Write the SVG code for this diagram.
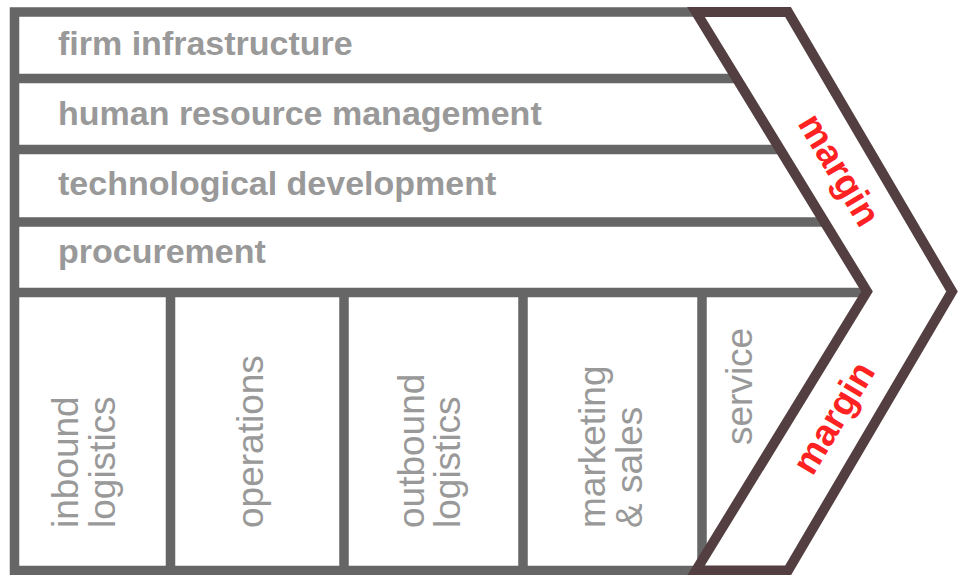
<svg xmlns="http://www.w3.org/2000/svg" width="959" height="575" viewBox="0 0 959 575">
  <style>
    .frame { fill: none; stroke: #666666; stroke-width: 9.5; stroke-linecap: butt; stroke-linejoin: miter; }
    .chev { fill: #ffffff; stroke: #533f41; stroke-width: 10; stroke-linejoin: miter; stroke-miterlimit: 10; }
    .row { font-family: "Liberation Sans", Arial, sans-serif; font-weight: bold; font-size: 34px; fill: #999999; }
    .col { font-family: "Liberation Sans", Arial, sans-serif; font-size: 37px; fill: #999999; }
    .margin { font-family: "Liberation Sans", Arial, sans-serif; font-weight: bold; font-size: 37px; fill: #ff2222; text-anchor: middle; }
  </style>
  <rect width="959" height="575" fill="#ffffff"/>
  <g id="connectors">
    <path class="frame" d="M696,12 H14.5 V570.5 H700"/>
    <path class="frame" d="M10,78.5 H737 M10,149.5 H780 M10,222 H824.5 M10,292.5 H867"/>
    <path class="frame" d="M170.5,292.5 V575 M344,292.5 V575 M523,292.5 V575 M702,292.5 V570"/>
  </g>
  <g id="margin-chevron">
    <polygon class="chev" points="696,12 788,12 952,291.5 788,570.5 696,570.5 867,291.5"/>
    <text class="margin" transform="translate(839,170) rotate(59)" x="0" y="12">margin</text>
    <text class="margin" transform="translate(834,418) rotate(-59)" x="0" y="12">margin</text>
  </g>
  <g id="firm-infrastructure">
    <text class="row" x="58" y="55">firm infrastructure</text>
  </g>
  <g id="human-resource-management">
    <text class="row" x="58" y="125">human resource management</text>
  </g>
  <g id="technological-development">
    <text class="row" x="58" y="194.5">technological development</text>
  </g>
  <g id="procurement">
    <text class="row" x="58" y="263">procurement</text>
  </g>
  <g id="inbound-logistics">
    <text class="col" transform="translate(78,528) rotate(-90)">inbound</text>
    <text class="col" transform="translate(115,528) rotate(-90)">logistics</text>
  </g>
  <g id="operations">
    <text class="col" transform="translate(263,528) rotate(-90)">operations</text>
  </g>
  <g id="outbound-logistics">
    <text class="col" transform="translate(423.5,528) rotate(-90)">outbound</text>
    <text class="col" transform="translate(459.5,528) rotate(-90)">logistics</text>
  </g>
  <g id="marketing-sales">
    <text class="col" transform="translate(605,528) rotate(-90)">marketing</text>
    <text class="col" transform="translate(642,528) rotate(-90)">&amp; sales</text>
  </g>
  <g id="service">
    <text class="col" transform="translate(752,445) rotate(-90)">service</text>
  </g>
</svg>
